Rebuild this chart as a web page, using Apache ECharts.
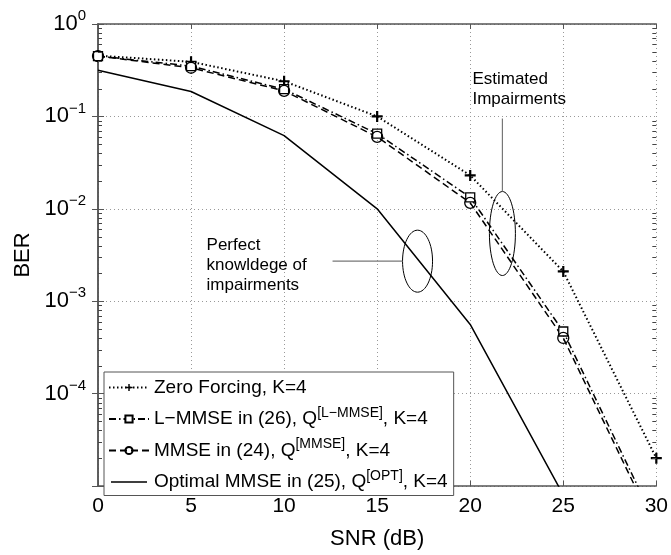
<!DOCTYPE html>
<html>
<head>
<meta charset="utf-8">
<script src="https://cdn.jsdelivr.net/npm/echarts@6/dist/echarts.min.js"></script>
<style>
html,body{margin:0;padding:0;background:#fff;}
#main{width:671px;height:555px;}
</style>
</head>
<body>
<div id="main"></div>
<script>
// SNR (dB)
var snr = [0, 5, 10, 15, 20, 25, 30];
// BER values
var zf    = [0.455, 0.39, 0.24, 0.10, 0.023, 0.0021, 2.0e-5];
var lmmse = [0.45, 0.35, 0.197, 0.065, 0.0133, 4.7e-4, 3.8e-6];
var mmse  = [0.45, 0.336, 0.189, 0.060, 0.0116, 4.0e-4, 3.3e-6];
var opt   = [0.316, 0.186, 0.062, 0.010, 5.6e-4, 8e-6, null];
var names = ['Zero Forcing, K=4', 'L\u2212MMSE in (26), Q{sup|[L\u2212MMSE]}, K=4',
             'MMSE in (24), Q{sup|[MMSE]}, K=4', 'Optimal MMSE in (25), Q{sup|[OPT]}, K=4'];
var xTicks = [0, 5, 10, 15, 20, 25, 30];
var decades = [-5, -4, -3, -2, -1];

function pairs(ys) {
    return snr.map(function (x, i) { return [x, ys[i]]; });
}

var font = 'Liberation Sans, Arial, sans-serif';
var plus = 'path://M4,0H6V4H10V6H6V10H4V6H0V4H4Z';
// plain line legend icon (tiny corner specks keep the box size)
var lineIcon = 'path://M0,0H0.01V0.01H0Z M0,4.2H40V5.8H0Z M39.99,9.99H40V10H39.99Z';

var myChart = echarts.init(document.getElementById('main'));
var option = {
    animation: false,
    backgroundColor: '#fff',
    textStyle: {fontFamily: font},
    grid: {left: 98, right: 14, top: 24, bottom: 64, containLabel: false},
    legend: {
        orient: 'vertical',
        left: 104, top: 372,
        padding: [6, 6, 4, 4],
        itemGap: 9,
        itemWidth: 40, itemHeight: 9,
        backgroundColor: '#fff',
        borderColor: '#555', borderWidth: 1,
        data: [names[0], names[1], names[2], {name: names[3], icon: lineIcon}],
        formatter: function (n) { return n; },
        textStyle: {
            fontSize: 19, color: '#000', fontFamily: font,
            rich: {sup: {fontSize: 14, verticalAlign: 'top', padding: [0, 0, 12, 0], fontFamily: font}}
        }
    },
    xAxis: [{
        type: 'value', min: 0, max: 30, interval: 5,
        name: 'SNR (dB)', nameLocation: 'middle', nameGap: 42,
        nameTextStyle: {fontSize: 22, color: '#000', fontFamily: font},
        axisLine: {lineStyle: {color: '#555', width: 1.5}},
        axisTick: {inside: true, length: 5, lineStyle: {color: '#555'}},
        axisLabel: {fontSize: 21, color: '#000', margin: 10, fontFamily: font,
            formatter: function (v) { return xTicks.indexOf(v) >= 0 ? String(v) : ''; }},
        splitLine: {show: true, lineStyle: {color: '#999', type: [1, 3]}}
    }, {
        type: 'value', min: 0, max: 30, interval: 5, position: 'top',
        axisLine: {show: true, lineStyle: {color: '#555', width: 1.5}},
        axisTick: {inside: true, length: 5, lineStyle: {color: '#555'}},
        axisLabel: {show: false}, splitLine: {show: false}
    }],
    yAxis: [{
        type: 'log', logBase: 10, min: 1e-5, max: 1,
        name: 'BER', nameLocation: 'middle', nameGap: 58, nameRotate: 90,
        nameTextStyle: {fontSize: 22, color: '#000', fontFamily: font},
        axisLine: {show: true, lineStyle: {color: '#555', width: 1.5}},
        axisTick: {inside: true, length: 6, lineStyle: {color: '#555'}},
        axisLabel: {
            margin: 12, color: '#000',
            formatter: function (v) {
                var e = Math.round(Math.log(v) / Math.LN10);
                if (e <= -5) return '';
                return '{b|10}{e|' + (e < 0 ? '\u2212' + (-e) : e) + '}';
            },
            rich: {
                b: {fontSize: 22, fontFamily: font, color: '#000', verticalAlign: 'middle'},
                e: {fontSize: 15, fontFamily: font, color: '#000', verticalAlign: 'top', padding: [0, 0, 16, 0]}
            }
        },
        splitLine: {show: true, lineStyle: {color: '#999', type: [1, 3]}}
    }, {
        type: 'log', logBase: 10, min: 1e-5, max: 1, position: 'right',
        axisLine: {show: true, lineStyle: {color: '#555', width: 1.5}},
        axisTick: {inside: true, length: 6, lineStyle: {color: '#555'}},
        axisLabel: {show: false}, splitLine: {show: false}
    }],
    series: [{
        name: names[0], type: 'line', data: pairs(zf),
        symbol: plus, symbolSize: 11, showAllSymbol: true,
        itemStyle: {color: '#000', borderWidth: 0},
        lineStyle: {color: '#000', width: 2, type: [1.5, 2.5]}
    }, {
        name: names[1], type: 'line', data: pairs(lmmse),
        symbol: 'rect', symbolSize: 9,
        itemStyle: {color: '#fff', borderColor: '#000', borderWidth: 1.3},
        lineStyle: {color: '#000', width: 1.5, type: [7, 3, 1.5, 3]}
    }, {
        name: names[2], type: 'line', data: pairs(mmse),
        symbol: 'circle', symbolSize: 11,
        itemStyle: {color: 'rgba(255,255,255,0)', borderColor: '#000', borderWidth: 1.3},
        lineStyle: {color: '#000', width: 1.5, type: [7, 4]}
    }, {
        name: names[3], type: 'line', data: pairs(opt),
        symbol: 'none',
        itemStyle: {color: '#000'},
        lineStyle: {color: '#000', width: 1.5, type: 'solid'}
    }]
};
myChart.setOption(option);

// minor ticks at 2..9 x 10^e on left and right axes, plus annotations
function toPx(x, y) {
    return myChart.convertToPixel({xAxisIndex: 0, yAxisIndex: 0}, [x, y]);
}
var graphics = [];
var x0 = toPx(0, 1)[0];
var x1 = toPx(30, 1)[0];
decades.forEach(function (e) {
    for (var k = 2; k <= 9; k++) {
        var y = Math.round(toPx(0, k * Math.pow(10, e))[1]) + 0.5;
        graphics.push({type: 'line', silent: true, z: 50,
            shape: {x1: x0, y1: y, x2: x0 + 4, y2: y}, style: {stroke: '#444', lineWidth: 1}});
        graphics.push({type: 'line', silent: true, z: 50,
            shape: {x1: x1 - 4, y1: y, x2: x1, y2: y}, style: {stroke: '#444', lineWidth: 1}});
    }
});

var perfC = toPx(17.17, 2.85e-3);
var estC = toPx(21.73, 5.4e-3);
graphics.push(
    {type: 'ellipse', shape: {cx: perfC[0], cy: perfC[1] + 2, rx: 15, ry: 31},
        style: {fill: 'none', stroke: '#000', lineWidth: 1}, z: 100},
    {type: 'line', shape: {x1: perfC[0] - 85, y1: perfC[1] + 2, x2: perfC[0] - 15, y2: perfC[1] + 2},
        style: {stroke: '#777', lineWidth: 1.2}, z: 100},
    {type: 'text', x: perfC[0] - 211, y: perfC[1] - 24,
        style: {text: 'Perfect\nknowldege of\nimpairments', font: '17px ' + font, fill: '#000', lineHeight: 20}, z: 100},
    {type: 'ellipse', shape: {cx: estC[0], cy: estC[1], rx: 13, ry: 42},
        style: {fill: 'none', stroke: '#000', lineWidth: 1}, z: 100},
    {type: 'line', shape: {x1: estC[0], y1: estC[1] - 115, x2: estC[0], y2: estC[1] - 42},
        style: {stroke: '#777', lineWidth: 1.2}, z: 100},
    {type: 'text', x: estC[0] - 30, y: estC[1] - 164,
        style: {text: 'Estimated\nImpairments', font: '17px ' + font, fill: '#000', lineHeight: 20}, z: 100}
);
myChart.setOption({graphic: graphics});

window.onresize = function () {
    myChart.resize();
};
</script>
</body>
</html>
